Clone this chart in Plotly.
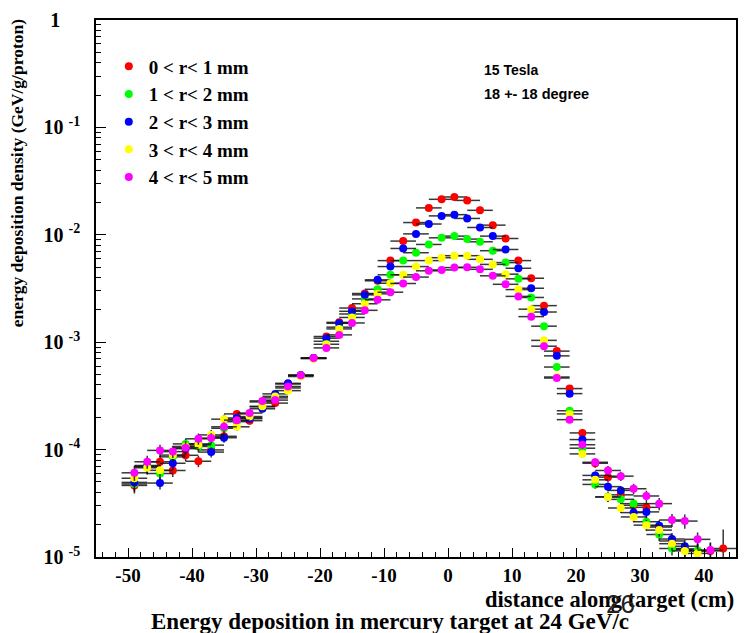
import plotly.graph_objects as go

# distance along target (cm), bin centres
x_cm = [-49, -47, -45, -43, -41, -39, -37, -35, -33, -31, -29, -27, -25, -23, -21, -19,
        -17, -15, -13, -11, -9, -7, -5, -3, -1, 1, 3, 5, 7, 9, 11, 13, 15, 17, 19, 21,
        23, 25, 27, 29, 31, 33, 35, 37, 39, 41, 43]

# energy deposition density (GeV/g/proton)
r0_1 = [4.64e-5, 6.96e-5, 7.70e-5, 6.39e-5, 8.85e-5, 7.79e-5, 9.93e-5, 1.33e-4, 2.15e-4, 1.86e-4,
        2.50e-4, 2.71e-4, 4.08e-4, 4.92e-4, 7.11e-4, 1.13e-3, 1.53e-3, 2.08e-3, 2.84e-3, 3.73e-3,
        5.75e-3, 8.74e-3, 1.30e-2, 1.78e-2, 2.14e-2, 2.25e-2, 2.09e-2, 1.69e-2, 1.23e-2, 9.24e-3,
        5.75e-3, 3.94e-3, 2.19e-3, 8.26e-4, 3.70e-4, 1.43e-4, 7.46e-5, 5.54e-5, 3.79e-5, 3.03e-5,
        2.90e-5, 1.90e-5, 1.41e-5, 1.19e-5, 1.14e-5, 1.14e-5, 1.20e-5]
r1_2 = [4.79e-5, 7.11e-5, 5.99e-5, 8.56e-5, 1.13e-4, 1.07e-4, 1.10e-4, 1.58e-4, 1.82e-4, 1.98e-4,
        2.78e-4, 3.03e-4, 3.75e-4, 4.89e-4, 7.11e-4, 1.02e-3, 1.38e-3, 1.83e-3, 2.53e-3, 3.11e-3,
        4.24e-3, 5.75e-3, 6.81e-3, 8.13e-3, 9.38e-3, 9.72e-3, 9.12e-3, 8.61e-3, 7.11e-3, 5.51e-3,
        3.89e-3, 2.61e-3, 1.41e-3, 5.87e-4, 2.30e-4, 1.03e-4, 4.74e-5, 3.63e-5, 3.44e-5, 3.14e-5,
        2.13e-5, 1.62e-5, 1.20e-5, 1.17e-5, 1.15e-5, None, None]
r2_3 = [4.95e-5, 6.96e-5, 4.88e-5, 7.46e-5, 1.02e-4, 1.13e-4, 9.48e-5, 1.29e-4, 1.97e-4, 1.94e-4,
        2.40e-4, 3.30e-4, 4.14e-4, 4.92e-4, 7.11e-4, 1.09e-3, 1.50e-3, 1.94e-3, 2.76e-3, 3.81e-3,
        5.06e-3, 7.46e-3, 1.02e-2, 1.26e-2, 1.50e-2, 1.54e-2, 1.42e-2, 1.17e-2, 9.72e-3, 7.30e-3,
        4.88e-3, 3.18e-3, 1.91e-3, 7.46e-4, 3.32e-4, 1.24e-4, 5.75e-5, 4.52e-5, 4.17e-5, 2.59e-5,
        2.63e-5, 1.95e-5, 1.47e-5, 1.26e-5, None, None, None]
r3_4 = [5.41e-5, 6.77e-5, 6.41e-5, 8.89e-5, 1.07e-4, 1.11e-4, 1.37e-4, 1.92e-4, 1.63e-4, 2.03e-4,
        2.53e-4, 3.13e-4, 3.54e-4, 4.79e-4, 7.03e-4, 9.57e-4, 1.33e-3, 1.70e-3, 2.28e-3, 2.82e-3,
        3.54e-3, 4.24e-3, 5.06e-3, 5.75e-3, 6.12e-3, 6.39e-3, 6.39e-3, 5.91e-3, 5.30e-3, 4.30e-3,
        3.09e-3, 2.03e-3, 1.04e-3, 4.74e-4, 2.15e-4, 9.12e-5, 5.23e-5, 3.62e-5, 2.86e-5, 2.36e-5,
        1.98e-5, 1.78e-5, 1.33e-5, 1.14e-5, 1.08e-5, None, None]
r4_5 = [6.08e-5, 7.70e-5, 9.83e-5, 9.58e-5, 1.04e-4, 1.26e-4, 1.28e-4, 1.63e-4, 1.88e-4, 2.19e-4,
        2.84e-4, 2.89e-4, 3.87e-4, 4.92e-4, 7.11e-4, 8.85e-4, 1.17e-3, 1.51e-3, 1.98e-3, 2.48e-3,
        2.92e-3, 3.52e-3, 4.04e-3, 4.62e-3, 4.71e-3, 4.95e-3, 4.98e-3, 4.77e-3, 4.15e-3, 3.46e-3,
        2.67e-3, 1.73e-3, 9.18e-4, 4.64e-4, 1.90e-4, 1.11e-4, 7.62e-5, 6.39e-5, 5.66e-5, 4.32e-5,
        3.70e-5, 3.14e-5, 2.21e-5, 2.16e-5, 1.46e-5, 1.16e-5, None]

rel_err = [0.16, 0.14, 0.13, 0.13, 0.12, 0.12, 0.11, 0.10, 0.08, 0.08, 0.07, 0.06, 0.05, 0.05,
           0.04, 0.03, 0.02, 0.02, 0.02, 0.02, 0.02, 0.02, 0.02, 0.02, 0.02, 0.02, 0.02, 0.02,
           0.02, 0.02, 0.02, 0.02, 0.03, 0.04, 0.06, 0.08, 0.09, 0.10, 0.10, 0.11, 0.12, 0.13,
           0.14, 0.15, 0.16, 0.18, 0.50]
bin_half_width = 2.0

series_names = ["0 &lt; r&lt; 1 mm", "1 &lt; r&lt; 2 mm", "2 &lt; r&lt; 3 mm",
                "3 &lt; r&lt; 4 mm", "4 &lt; r&lt; 5 mm"]
series_values = [r0_1, r1_2, r2_3, r3_4, r4_5]
series_colors = ["#ff0000", "#00ff00", "#0000ff", "#ffff00", "#ff00ff"]

y_tickvals = [1e-5, 1e-4, 1e-3, 1e-2, 1e-1, 1]
y_ticktext = ["10\u00a0<sup>-5</sup>", "10\u00a0<sup>-4</sup>", "10\u00a0<sup>-3</sup>",
              "10\u00a0<sup>-2</sup>", "10\u00a0<sup>-1</sup>", "1\u00a0\u00a0\u00a0\u00a0"]
x_tickvals = [-50, -40, -30, -20, -10, 0, 10, 20, 30, 40]
x_ticktext = ["-50", "-40", "-30", "-20", "-10", "0", "10", "20", "30", "40"]

SERIF = "Liberation Serif"
SANS = "Liberation Sans"

fig = go.Figure()
for i, (name, vals, col) in enumerate(zip(series_names, series_values, series_colors)):
    errs = [None if v is None else v * e for v, e in zip(vals, rel_err)]
    fig.add_trace(go.Scatter(
        x=x_cm, y=vals, mode="markers", name=name,
        marker=dict(color=col, size=8, line=dict(width=0)),
        error_x=dict(type="constant", value=bin_half_width, color="rgba(20,20,20,0.85)",
                     thickness=1.5, width=0),
        error_y=dict(type="data", array=errs, color="rgba(20,20,20,0.85)",
                     thickness=1.5, width=0),
    ))

minor_y = [m * 10.0 ** d for d in range(-5, 0) for m in range(2, 10)]

fig.update_layout(
    width=747, height=633,
    margin=dict(l=96, r=9, t=17, b=76),
    paper_bgcolor="white", plot_bgcolor="white",
    showlegend=True,
    legend=dict(x=0.02, y=0.949, xanchor="left", yanchor="top",
                font=dict(family=SERIF, size=19, color="black", weight="bold"),
                bgcolor="rgba(0,0,0,0)", itemwidth=30),
    xaxis=dict(range=[-55, 45], showgrid=False, zeroline=False,
               showline=True, linecolor="black", linewidth=1.5, mirror=True,
               ticks="inside", ticklen=9, tickwidth=1.2, tickcolor="black",
               tickmode="array", tickvals=x_tickvals, ticktext=x_ticktext,
               tickfont=dict(family=SERIF, size=19, color="black", weight="bold"),
               minor=dict(ticks="inside", ticklen=5, tickwidth=1, tickcolor="black",
                          dtick=2, tick0=0, showgrid=False)),
    yaxis=dict(type="log", range=[-5, 0], showgrid=False, zeroline=False,
               showline=True, linecolor="black", linewidth=1.5, mirror=True,
               ticks="inside", ticklen=10, tickwidth=1.2, tickcolor="black",
               tickmode="array", tickvals=y_tickvals, ticktext=y_ticktext,
               ticklabelstandoff=10,
               tickfont=dict(family=SERIF, size=20, color="black", weight="bold"),
               minor=dict(ticks="inside", ticklen=5, tickwidth=1, tickcolor="black",
                          tickmode="array", tickvals=minor_y, showgrid=False)),
)

fig.add_annotation(text="energy deposition density (GeV/g/proton)", textangle=-90,
                   xref="paper", yref="paper", x=-0.123, y=0.715, xanchor="center", yanchor="middle",
                   showarrow=False, font=dict(family=SERIF, size=17.5, color="black", weight="bold"))
fig.add_annotation(text="distance along target (cm)", xref="paper", yref="paper",
                   x=1.0, y=-0.08, xanchor="right", yanchor="middle", showarrow=False,
                   font=dict(family=SERIF, size=22.5, color="black", weight="bold"))
fig.add_annotation(text="Energy deposition in mercury target at 24 GeV/c", xref="paper", yref="paper",
                   x=0.4595, y=-0.1195, xanchor="center", yanchor="middle", showarrow=False,
                   font=dict(family=SERIF, size=23, color="black", weight="bold"))
fig.add_annotation(text="26", xref="paper", yref="paper", x=0.82, y=-0.087,
                   xanchor="center", yanchor="middle", showarrow=False,
                   font=dict(family=SANS, size=26, color="#222222"))
fig.add_annotation(text="15 Tesla", xref="paper", yref="paper", x=0.603, y=0.907,
                   xanchor="left", yanchor="middle", showarrow=False,
                   font=dict(family=SANS, size=14, color="black", weight="bold"))
fig.add_annotation(text="18 +- 18 degree", xref="paper", yref="paper", x=0.603, y=0.862,
                   xanchor="left", yanchor="middle", showarrow=False,
                   font=dict(family=SANS, size=14.5, color="black", weight="bold"))

fig.write_html("out.html", config={"displayModeBar": False},
               post_script="document.body.style.margin='0px';")
